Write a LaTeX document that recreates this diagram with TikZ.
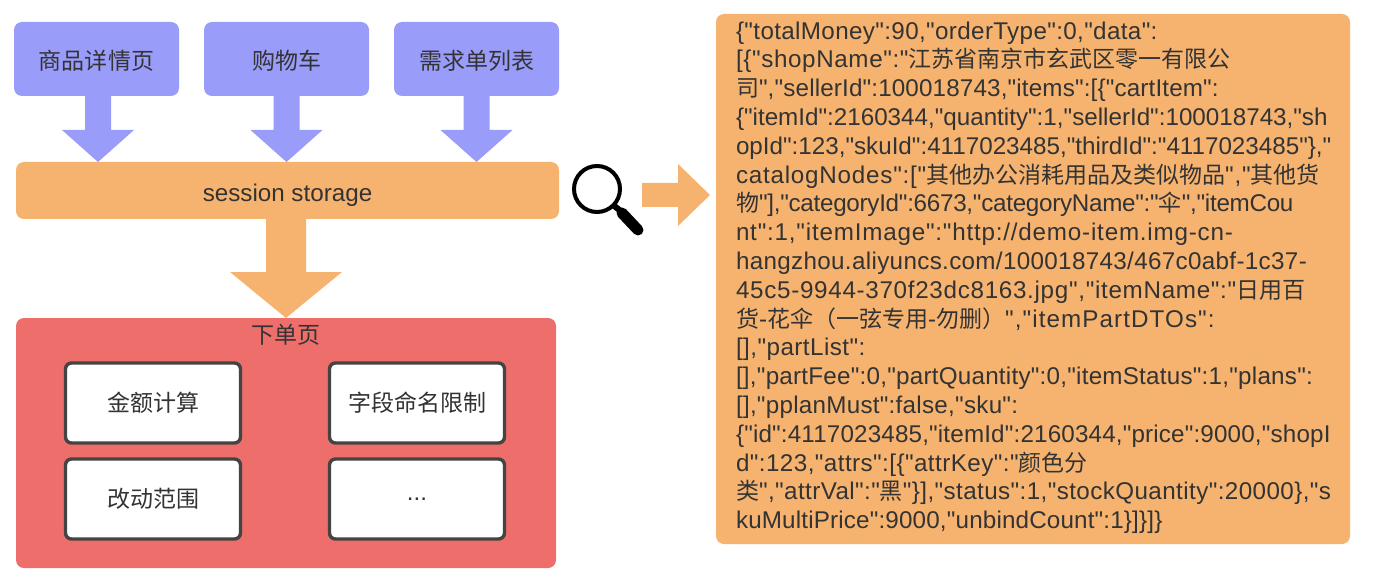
\documentclass[tikz,border=0pt]{standalone}
\usepackage{fontspec}
\usetikzlibrary{calc}
\newfontfamily\latinf{Liberation Sans}
\newfontfamily\cjk{Noto Sans CJK SC}
\definecolor{bluefill}{HTML}{9A9CF9}
\definecolor{orangefill}{HTML}{F5B36F}
\definecolor{redfill}{HTML}{EE6E6B}
\definecolor{inkcol}{HTML}{333333}
\definecolor{borderdark}{HTML}{444444}
\newcommand{\blockarrow}[6]{%
  \coordinate (bh) at ($(#2)!#5!(#1)$);
  \fill[#6] ($(#1)!#3!90:(#2)$) -- ($(bh)!#3!90:(#2)$) -- ($(bh)!#4!90:(#2)$) -- (#2)
    -- ($(bh)!#4!-90:(#2)$) -- ($(bh)!#3!-90:(#2)$) -- ($(#1)!#3!-90:(#2)$) -- cycle;
}
\newcommand{\zh}[1]{{\fontsize{11.5}{14.4}\cjk #1}}
\newcommand{\lsp}[1]{\addfontfeature{LetterSpace=#1}}
\newcommand{\lowered}[2]{\smash{\raisebox{-#1}{#2}}}
\tikzset{
  x=0.5pt,y=-0.5pt,
  every node/.style={text=inkcol,font=\fontsize{12.1}{14.4}\selectfont\latinf,inner sep=0pt,outer sep=0pt},
  srcbox/.style={fill=bluefill,rounded corners=4pt,minimum width=82.5pt,minimum height=37pt},
  bar/.style={fill=orangefill,rounded corners=4pt},
  redpanel/.style={fill=redfill,rounded corners=4pt,minimum width=270pt,minimum height=125pt},
  whitebox/.style={fill=white,draw=borderdark,line width=1.7pt,rounded corners=3pt,minimum width=87.5pt,minimum height=40pt},
  bluearrow/.style={fill=bluefill},
  orangearrow/.style={fill=orangefill},
}
\begin{document}
\begin{tikzpicture}
\useasboundingbox (0,0) rectangle (1390,588);
% source boxes
\node[srcbox] (p1) at (96.5,59) {\lowered{5.2pt}{\zh{商品详情页}}};
\node[srcbox] (p2) at (286.5,59) {\lowered{5.2pt}{\zh{购物车}}};
\node[srcbox] (p3) at (476.5,59) {\lowered{5.2pt}{\zh{需求单列表}}};
\node[bar,minimum width=271.5pt,minimum height=28.5pt] (ss) at (287.5,190.5) {\lowered{5.75pt}{session storage}};
\node[redpanel] (order) at (286,443) {};
\node (ordertitle) at (286,335) {\zh{下单页}};
\node[whitebox] (w1) at (153,403) {\zh{金额计算}};
\node[whitebox] (w2) at (417,403) {\zh{字段命名限制}};
\node[whitebox] (w3) at (153,499) {\zh{改动范围}};
\node[whitebox] (w4) at (417,499) {...};
% arrows
\coordinate (s1) at ($(p1.south)+(1.5,0)$);
\coordinate (s2) at ($(p2.south)+(0,0)$);
\coordinate (s3) at ($(p3.south)+(0,0)$);
\coordinate (e1) at (s1 |- ss.north);
\coordinate (e2) at (s2 |- ss.north);
\coordinate (e3) at (s3 |- ss.north);
\blockarrow{s1}{e1}{6.5pt}{18pt}{16pt}{bluearrow}
\blockarrow{s2}{e2}{6.5pt}{18pt}{16pt}{bluearrow}
\blockarrow{s3}{e3}{6.5pt}{18pt}{16pt}{bluearrow}
\coordinate (s4) at (ss.south -| order.north);
\blockarrow{s4}{order.north}{10pt}{28pt}{23pt}{orangearrow}
% JSON panel
\node[bar,minimum width=317pt,minimum height=265pt,rounded corners=4pt] (json) at (1033,279) {};
\node[anchor=north west,align=left] (jsontext) at (736,21.5) {%
\lsp{1.5}\{"totalMoney":90,"orderType":0,"data":\\
\lsp{2.6}{}[\{"shopName":"\zh{江苏省南京市玄武区零一有限公}\\
\lsp{0.65}\zh{司}","sellerId":100018743,"items":[\{"cartItem":\\
\lsp{0}\{"itemId":2160344,"quantity":1,"sellerId":100018743,"sh\\
\lsp{0}opId":123,"skuId":4117023485,"thirdId":"4117023485"\},"\\
\lsp{3.2}catalogNodes":["\zh{其他办公消耗用品及类似物品}","\zh{其他货}\\
\lsp{-1.1}\zh{物}"],"categoryId":6673,"categoryName":"\zh{伞}","itemCou\\
\lsp{3.3}nt":1,"itemImage":"http://demo-item.img-cn-\\
\lsp{1.4}hangzhou.aliyuncs.com/100018743/467c0abf-1c37-\\
\lsp{2.9}45c5-9944-370f23dc8163.jpg","itemName":"\zh{日用百}\\
\lsp{4.5}\zh{货}-\zh{花伞（一弦专用}-\zh{勿删）}","itemPartDTOs":\\
\lsp{1.9}{}[],"partList":\\
\lsp{1}{}[],"partFee":0,"partQuantity":0,"itemStatus":1,"plans":\\
\lsp{1.1}{}[],"pplanMust":false,"sku":\\
\lsp{0.7}\{"id":4117023485,"itemId":2160344,"price":9000,"shopI\\
\lsp{1.8}d":123,"attrs":[\{"attrKey":"\zh{颜色分}\\
\lsp{1.7}\zh{类}","attrVal":"\zh{黑}"\}],"status":1,"stockQuantity":20000\},"s\\
\lsp{0.7}kuMultiPrice":9000,"unbindCount":1\}]\}]\}};
% magnifier
\draw[black,line width=2pt] (597,189) circle (23);
\draw[black,line width=3pt] (613,205) -- (622,212);
\draw[black,line width=5.5pt,line cap=round] (622,213) -- (638,230);
% lookup arrow
\coordinate (s5) at (642,195);
\coordinate (e5) at (710,195);
\blockarrow{s5}{e5}{6pt}{15.5pt}{16pt}{orangearrow}
\end{tikzpicture}
\end{document}
